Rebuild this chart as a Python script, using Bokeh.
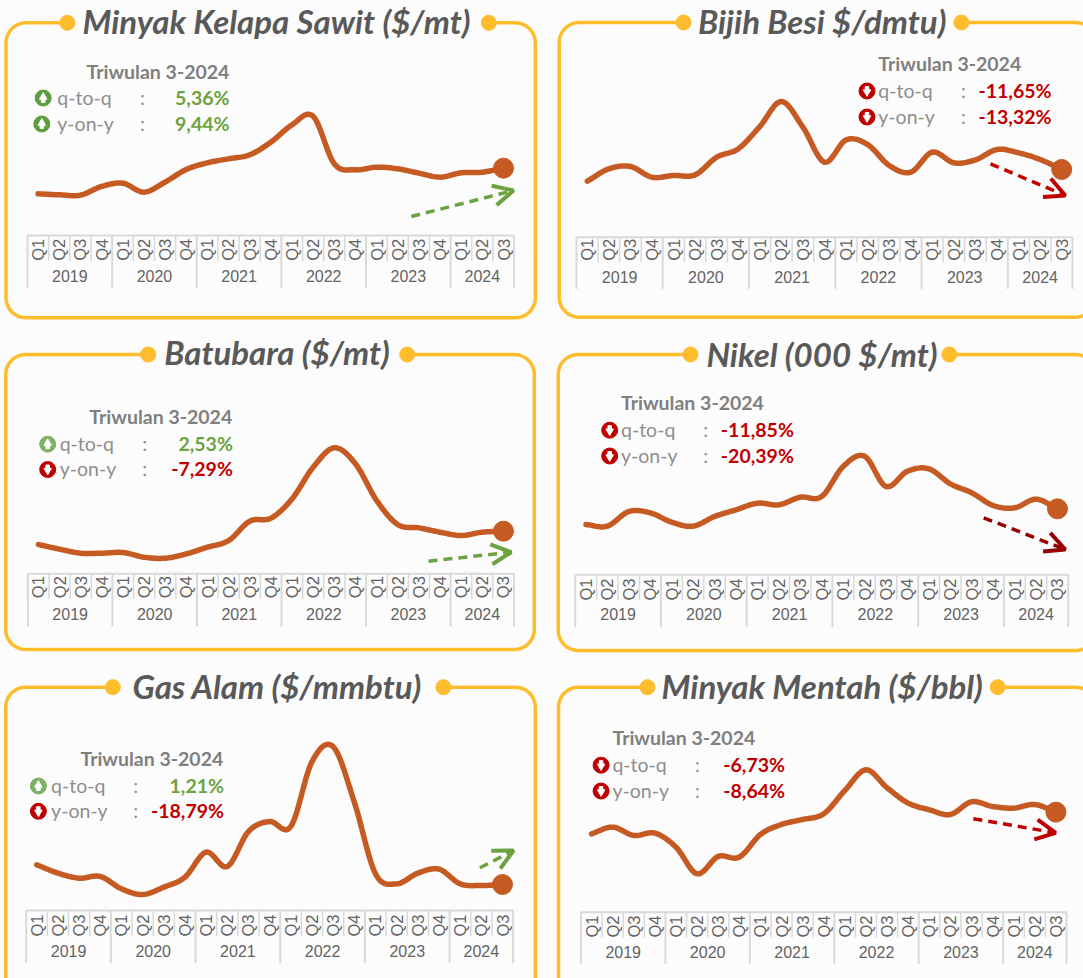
import numpy as np
from bokeh.core.properties import value
from bokeh.embed import file_html
from bokeh.models import Arrow, OpenHead, Range1d
from bokeh.plotting import figure
from bokeh.resources import INLINE

# ---------- data ----------
quarters = ["Q1", "Q2", "Q3", "Q4"] * 5 + ["Q1", "Q2", "Q3"]
years = ["2019", "2020", "2021", "2022", "2023", "2024"]
year_quarters = [4, 4, 4, 4, 4, 3]

palm_oil = [550, 538, 534, 638, 678, 570, 690, 842, 922, 970, 1018, 1170, 1378, 1482, 910, 838, 870, 850, 798, 750, 802, 810, 858]
iron_ore = [80, 96.7, 99.8, 85.4, 87.7, 88.6, 112.4, 123.7, 153.8, 187.6, 152.9, 105.7, 135.8, 129.5, 101.2, 92.2, 119.2, 104.8, 108.8, 122.8, 118.3, 109.3, 95.8]
coal = [86.9, 74.3, 63.5, 63.5, 65.3, 52.7, 50, 61.7, 79.7, 97.7, 149.9, 158, 210.2, 295.7, 347.9, 304.7, 205.7, 140.9, 131.9, 120.2, 111.2, 120.2, 122.9]
nickel = [12, 11.58, 15.25, 14.92, 12.58, 11.58, 14.0, 15.67, 17.33, 16.92, 18.83, 19.0, 26.5, 29.08, 21.5, 25.33, 25.92, 22.17, 19.92, 16.75, 16.17, 18.33, 15.92]
natural_gas = [8.34, 6.84, 5.94, 6.24, 4.02, 3, 4.32, 6.12, 10.62, 8.04, 14.34, 16.14, 15.24, 26.9, 29.6, 19.62, 6.72, 4.92, 6.84, 7.56, 4.92, 4.62, 4.8]
crude_oil = [60, 65, 58.75, 60.5, 50, 30, 43, 42.5, 59.5, 67, 70.75, 75, 92.5, 108, 94.5, 83, 78, 74.5, 84, 80.5, 79.25, 82, 76.25]

titles = ["Minyak Kelapa Sawit ($/mt)", "Bijih Besi $/dmtu)", "Batubara ($/mt)", "Nikel (000 $/mt)", "Gas Alam ($/mmbtu)", "Minyak Mentah ($/bbl)"]
period_label = "Triwulan 3-2024"
qtq_label, yoy_label = "q-to-q", "y-on-y"
qtq_text = ["5,36%", "-11,65%", "2,53%", "-11,85%", "1,21%", "-6,73%"]
yoy_text = ["9,44%", "-13,32%", "-7,29%", "-20,39%", "-18,79%", "-8,64%"]
series = [palm_oil, iron_ore, coal, nickel, natural_gas, crude_oil]

# ---------- layout (reference pixels) ----------
W, H = 1083, 978
ORANGE, LINE = "#FFBC2D", "#C55A23"
GREEN, RED, DARKRED = "#6AA33F", "#C00000", "#960000"
GREY_T, GREY_L, GREY_S, GRID, GREY_A = "#595959", "#7F7F7F", "#8E8E8E", "#D9D9D9", "#636363"

panels = [
    dict(card=(5.5, 534.8, 22.3, 317.3), dots=(66.8, 488.3), tx=276, ty=20,
         ax=(27, 513.6), cal=(550, 193.3, 1482, 115.7), ay=(235, 260.7, 287.3, 249.3, 275.5),
         per=(86, 71), rows=(96.5, 122.5), lab=56.8, col=142, val=229, ic=(42.7, 41.3),
         arrow=(410.8, 216, 513, 190), ac=GREEN, icc=("#5F9E3F", "#5F9E3F")),
    dict(card=(558.7, 1095, 22, 316.7), dots=(683, 960.9), tx=821.7, ty=20,
         ax=(576, 1072), cal=(80, 180.7, 187.6, 101), ay=(236.7, 261.7, 288.3, 249.3, 276),
         per=(877.8, 63), rows=(89.5, 115.5), lab=877.8, col=962.9, val=1051, ic=(866.5, 866.5),
         arrow=(990, 163.3, 1064.8, 195), ac=RED, icc=(RED, RED)),
    dict(card=(5.2, 533.8, 354, 649), dots=(147.7, 406.7), tx=276.5, ty=351,
         ax=(27.4, 513.5), cal=(50, 557.7, 347.9, 447.3), ay=(573.3, 598.3, 625.7, 586.7, 613),
         per=(88.8, 416.3), rows=(442.7, 468), lab=59.2, col=144.3, val=232.4, ic=(47.2, 47.2),
         arrow=(428, 560.7, 510.7, 551.7), ac=GREEN, icc=("#7FB068", RED)),
    dict(card=(557.7, 1095, 354, 650), dots=(690, 948.8), tx=821.5, ty=353.5,
         ax=(574.7, 1067.7), cal=(12, 524, 29.08, 455.7), ay=(574.3, 600, 626.7, 589, 613.8),
         per=(620.5, 402.3), rows=(428.7, 454.5), lab=620.5, col=705.2, val=793.4, ic=(609.2, 609.2),
         arrow=(983.2, 517.3, 1064.8, 549), ac=DARKRED, icc=(RED, RED)),
    dict(card=(5.2, 534.8, 686.7, 1000), dots=(112.3, 442.9), tx=276.9, ty=685,
         ax=(25.7, 512.6), cal=(3, 894, 30.12, 743.3), ay=(910, 935.7, 962.7, 925, 950),
         per=(79.9, 758.3), rows=(784.5, 809.8), lab=50.6, col=135.3, val=223.5, ic=(37.9, 37.9),
         arrow=(479.4, 867.3, 513.1, 850), ac=GREEN, icc=("#7FB068", RED)),
    dict(card=(558, 1095, 686.7, 1000), dots=(647, 997.2), tx=821.7, ty=685.5,
         ax=(580.5, 1066), cal=(30, 873.3, 108, 769.3), ay=(911.7, 936.7, 963.3, 926, 951),
         per=(611.9, 737.3), rows=(763.7, 789.5), lab=611.9, col=697, val=784.5, ic=(600.6, 600.6),
         arrow=(972.9, 818.3, 1055.2, 832.3), ac=RED, icc=(RED, RED)),
]


def smooth(y, n=14):
    """Excel-style smoothed line through the quarterly values."""
    y = np.asarray(y, float)
    m = np.gradient(y)
    xs, ys = [], []
    for i in range(len(y) - 1):
        t = np.linspace(0, 1, n, endpoint=False)
        h00, h10 = 2*t**3 - 3*t**2 + 1, t**3 - 2*t**2 + t
        h01, h11 = -2*t**3 + 3*t**2, t**3 - t**2
        xs.extend(i + t)
        ys.extend(h00*y[i] + h10*m[i] + h01*y[i+1] + h11*m[i+1])
    return xs + [len(y) - 1], ys + [y[-1]]


def card_path(left, right, top, bottom, d0, d1, r=20):
    a = np.linspace(0, np.pi/2, 12)
    xs = [d0, left + r] + list(left + r - r*np.sin(a)) + list(left + r - r*np.cos(a))
    ys = [top, top] + list(top + r - r*np.cos(a)) + list(bottom - r + r*np.sin(a))
    xs += list(right - r + r*np.sin(a)) + list(right - r + r*np.cos(a)) + [d1]
    ys += list(bottom - r + r*np.cos(a)) + list(top + r - r*np.sin(a)) + [top]
    return xs, ys


p = figure(width=W, height=H, output_backend="svg", toolbar_location=None,
           x_range=Range1d(0, W), y_range=Range1d(H, 0),
           x_axis_location=None, y_axis_location=None,
           background_fill_color="#FCFCFC", border_fill_color="#FCFCFC",
           min_border=0, outline_line_color=None)
p.grid.visible = False

TITLE_FONT, BODY_FONT, AXIS_FONT = value("Lato"), value("Lato"), value("Liberation Sans")

for k, (c, vals, title, qt, yt) in enumerate(zip(panels, series, titles, qtq_text, yoy_text)):
    # card + title
    l, r, t, b = c["card"]
    d0, d1 = c["dots"]
    xs, ys = card_path(l, r, t, b, d0, d1)
    p.line(xs, ys, line_color=ORANGE, line_width=3.5)
    p.scatter([d0, d1], [t, t], size=15, color=ORANGE)
    p.text([c["tx"]], [c["ty"]], text=[title], text_font=TITLE_FONT, text_font_size="33px",
           text_font_style="bold italic", text_color=GREY_T, text_align="center", text_baseline="middle")

    # scales of this panel
    a0, a1 = c["ax"]
    dx = (a1 - a0) / len(vals)
    xname, yname = f"x{k}", f"y{k}"
    idx = lambda px: (px - a0) / dx - 0.5
    v0, p0, v1, p1 = c["cal"]
    val_at = lambda px: v0 + (px - p0) * (v1 - v0) / (p1 - p0)
    p.extra_x_ranges[xname] = Range1d(idx(0), idx(W))
    p.extra_y_ranges[yname] = Range1d(val_at(H), val_at(0))

    # quarter / year axis
    top, qb, yb, qy, yy = c["ay"]
    n = len(vals)
    p.segment(x0=[-0.5], x1=[n - 0.5], y0=[top], y1=[top], x_range_name=xname,
              line_color=GRID, line_width=2)
    qpos = list(range(n))
    p.text(qpos, [qy] * n, text=quarters, x_range_name=xname, angle=np.pi/2,
           text_font=AXIS_FONT, text_font_size="16.5px", text_color=GREY_A,
           text_align="center", text_baseline="middle")
    edges = [-0.5 + e for e in np.cumsum([0] + year_quarters)]
    inner = [i - 0.5 for i in range(1, n) if i - 0.5 not in edges]
    p.segment(x0=inner, x1=inner, y0=[top] * len(inner), y1=[qb] * len(inner), x_range_name=xname,
              line_color=GRID, line_width=1.5)
    p.segment(x0=edges, x1=edges, y0=[top] * len(edges), y1=[yb] * len(edges), x_range_name=xname,
              line_color=GRID, line_width=2)
    centers = [(edges[i] + edges[i + 1]) / 2 for i in range(len(years))]
    p.text(centers, [yy] * len(years), text=years, x_range_name=xname, text_font=AXIS_FONT,
           text_font_size="16px", text_color=GREY_A, text_align="center", text_baseline="middle")

    # series
    sx, sy = smooth(vals)
    p.line(sx, sy, x_range_name=xname, y_range_name=yname, line_color=LINE, line_width=5.5,
           line_cap="round", line_join="round")
    p.scatter([n - 1], [vals[-1]], x_range_name=xname, y_range_name=yname, size=20, color=LINE)

    # trend arrow
    ax0, ay0, ax1, ay1 = c["arrow"]
    p.add_layout(Arrow(end=OpenHead(size=20, line_color=c["ac"], line_width=4),
                       x_start=ax0, y_start=ay0, x_end=ax1, y_end=ay1,
                       line_color=c["ac"], line_width=3.5, line_dash="9 6"))

    # stats block
    px_, py_ = c["per"]
    p.text([px_], [py_], text=[period_label], text_font=BODY_FONT, text_font_size="19.5px",
           text_font_style="bold", text_color=GREY_L, text_baseline="middle")
    for row_y, label, txt, icx, icc in zip(c["rows"], (qtq_label, yoy_label), (qt, yt), c["ic"], c["icc"]):
        p.text([c["lab"]], [row_y], text=[label], text_font=BODY_FONT, text_font_size="19.5px",
               text_color=GREY_S, text_baseline="middle")
        p.text([c["col"]], [row_y], text=[":"], text_font=BODY_FONT, text_font_size="19.5px",
               text_color=GREY_S, text_align="center", text_baseline="middle")
        col = RED if txt.startswith("-") else GREEN
        p.text([c["val"]], [row_y], text=[txt], text_font=BODY_FONT, text_font_size="19.5px",
               text_font_style="bold", text_color=col, text_align="right", text_baseline="middle")
        up = not txt.startswith("-")
        icy = row_y + 1
        p.scatter([icx], [icy], size=16, color=icc)
        p.scatter([icx], [icy - 1 if up else icy + 1], size=7.5,
                  marker="triangle" if up else "inverted_triangle", color="white")
        p.rect([icx], [icy + 2.5 if up else icy - 2.5], width=3.5, height=4, color="white")

open("out.html", "w").write(file_html(p, INLINE))
